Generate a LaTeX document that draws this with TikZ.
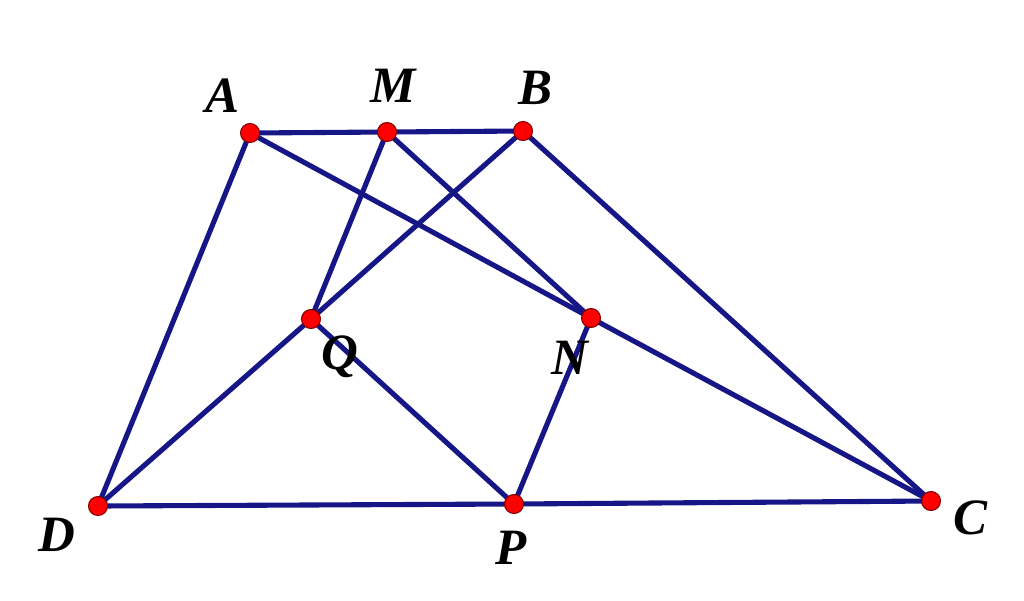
\documentclass[tikz,border=0pt]{standalone}
\usepackage{fontspec}
\setmainfont{Liberation Serif}
\usetikzlibrary{calc}
\definecolor{navy}{RGB}{22,22,135}
\tikzset{pt/.style={circle,fill=red,draw=red!50!black,line width=0.6pt,inner sep=0pt,minimum size=0.38cm},
lbl/.style={font=\bfseries\itshape\fontsize{29}{29}\selectfont}}
\begin{document}
\begin{tikzpicture}[x=0.02cm,y=-0.02cm]
\useasboundingbox (0,0) rectangle (1024,600);
\node (A) at (250,133) {};
\node (M) at (387,132) {};
\node (B) at (523,131) {};
\node (N) at (591,318) {};
\node (Q) at (311,319) {};
\node (D) at (98,506) {};
\node (P) at (514,504) {};
\node (C) at (931,501) {};
\begin{scope}[navy, line width=2.9pt]
\draw (A.center)--(M.center);
\draw (M.center)--(B.center);
\draw (A.center)--(D.center);
\draw (B.center)--(C.center);
\draw (D.center)--(P.center);
\draw (P.center)--(C.center);
\draw (A.center)--(N.center);
\draw (N.center)--(C.center);
\draw (D.center)--(Q.center);
\draw (Q.center)--(B.center);
\draw (M.center)--(Q.center);
\draw (M.center)--(N.center);
\draw (Q.center)--(P.center);
\draw (N.center)--(P.center);
\end{scope}
\foreach \p in {A,M,B,N,Q,D,P,C} \node[pt] at (\p) {};
\node[lbl] at (222,96) {A};
\node[lbl] at (393,86) {M};
\node[lbl] at (535,88) {B};
\node[lbl] at (340,357) {Q};
\node[lbl] at (570,358) {N};
\node[lbl] at (57,535) {D};
\node[lbl] at (511,548) {P};
\node[lbl] at (970,518) {C};
\end{tikzpicture}
\end{document}
